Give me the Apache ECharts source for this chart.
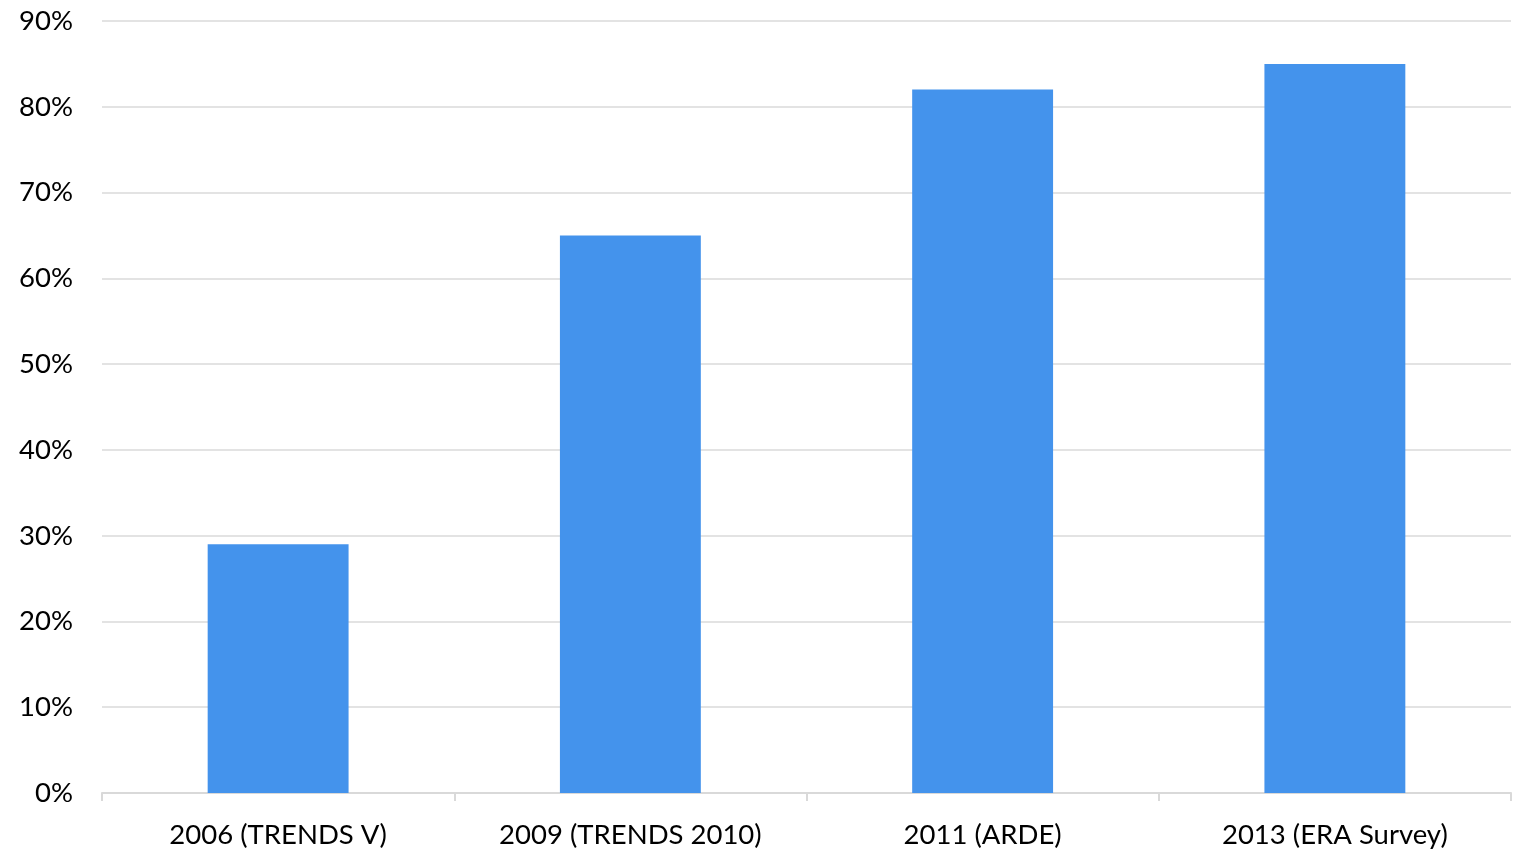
<!DOCTYPE html>
<html><head><meta charset="utf-8">
<script src="https://cdn.jsdelivr.net/npm/echarts@6/dist/echarts.min.js"></script>
<style>html,body{margin:0;padding:0;background:#fff}#c{width:1527px;height:851px}</style>
</head><body><div id="c"></div>
<script>
const categories = ['2006 (TRENDS V)', '2009 (TRENDS 2010)', '2011 (ARDE)', '2013 (ERA Survey)'];
const values = [29, 65, 82, 85];
const chart = echarts.init(document.getElementById('c'));
chart.setOption({
  animation: false,
  grid: {left: 102, right: 16, top: 21, bottom: 58, containLabel: false},
  xAxis: {
    type: 'category', data: categories,
    axisLine: {lineStyle: {color: '#d9d9d9', width: 2}},
    axisTick: {show: true, length: 8, lineStyle: {color: '#d9d9d9', width: 2}},
    axisLabel: {color: '#000', fontSize: 27.5, fontFamily: 'Lato, "Open Sans", sans-serif', margin: 28}
  },
  yAxis: {
    type: 'value', min: 0, max: 90, interval: 10,
    axisLine: {show: false}, axisTick: {show: false},
    splitLine: {lineStyle: {color: '#e3e3e3', width: 2}},
    axisLabel: {color: '#000', fontSize: 27.5, fontFamily: 'Lato, "Open Sans", sans-serif', margin: 29, formatter: '{value}%'}
  },
  series: [{type: 'bar', data: values, barWidth: '40%', itemStyle: {color: '#4493EC'}}]
});
</script></body></html>
